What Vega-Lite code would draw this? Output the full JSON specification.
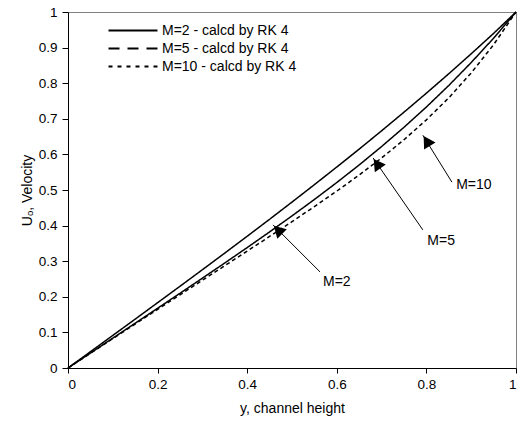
{
  "$schema": "https://vega.github.io/schema/vega-lite/v6.json",
  "width": 448,
  "height": 356,
  "autosize": {"type": "none"},
  "padding": {"left": 68, "top": 12, "right": 2, "bottom": 59},
  "background": "white",
  "config": {
    "font": "Liberation Sans",
    "view": {"stroke": "#808080", "strokeWidth": 1},
    "axis": {
      "grid": false,
      "domainColor": "black",
      "tickColor": "black",
      "labelColor": "black",
      "titleColor": "black",
      "labelFont": "Liberation Sans",
      "titleFont": "Liberation Sans",
      "labelFontSize": 13.5,
      "titleFontSize": 14,
      "titleFontWeight": "normal",
      "labelOverlap": false
    }
  },
  "resolve": {"scale": {"strokeDash": "independent"}, "legend": {"strokeDash": "independent"}},
  "datasets": {
    "curves": [
      {"y": 0, "u": 0, "series": "M=2 - calcd by RK 4"},
      {"y": 0.05, "u": 0.0457, "series": "M=2 - calcd by RK 4"},
      {"y": 0.1, "u": 0.0915, "series": "M=2 - calcd by RK 4"},
      {"y": 0.15, "u": 0.1373, "series": "M=2 - calcd by RK 4"},
      {"y": 0.2, "u": 0.1834, "series": "M=2 - calcd by RK 4"},
      {"y": 0.25, "u": 0.2296, "series": "M=2 - calcd by RK 4"},
      {"y": 0.3, "u": 0.2761, "series": "M=2 - calcd by RK 4"},
      {"y": 0.35, "u": 0.3229, "series": "M=2 - calcd by RK 4"},
      {"y": 0.4, "u": 0.3701, "series": "M=2 - calcd by RK 4"},
      {"y": 0.45, "u": 0.4178, "series": "M=2 - calcd by RK 4"},
      {"y": 0.5, "u": 0.4661, "series": "M=2 - calcd by RK 4"},
      {"y": 0.55, "u": 0.5150, "series": "M=2 - calcd by RK 4"},
      {"y": 0.6, "u": 0.5646, "series": "M=2 - calcd by RK 4"},
      {"y": 0.65, "u": 0.6149, "series": "M=2 - calcd by RK 4"},
      {"y": 0.7, "u": 0.6663, "series": "M=2 - calcd by RK 4"},
      {"y": 0.75, "u": 0.7186, "series": "M=2 - calcd by RK 4"},
      {"y": 0.8, "u": 0.7720, "series": "M=2 - calcd by RK 4"},
      {"y": 0.85, "u": 0.8266, "series": "M=2 - calcd by RK 4"},
      {"y": 0.9, "u": 0.8826, "series": "M=2 - calcd by RK 4"},
      {"y": 0.95, "u": 0.9399, "series": "M=2 - calcd by RK 4"},
      {"y": 1, "u": 1, "series": "M=2 - calcd by RK 4"},
      {"y": 0, "u": 0, "series": "M=5 - calcd by RK 4"},
      {"y": 0.05, "u": 0.0419, "series": "M=5 - calcd by RK 4"},
      {"y": 0.1, "u": 0.0839, "series": "M=5 - calcd by RK 4"},
      {"y": 0.15, "u": 0.1258, "series": "M=5 - calcd by RK 4"},
      {"y": 0.2, "u": 0.1678, "series": "M=5 - calcd by RK 4"},
      {"y": 0.25, "u": 0.2099, "series": "M=5 - calcd by RK 4"},
      {"y": 0.3, "u": 0.2524, "series": "M=5 - calcd by RK 4"},
      {"y": 0.35, "u": 0.2950, "series": "M=5 - calcd by RK 4"},
      {"y": 0.4, "u": 0.3383, "series": "M=5 - calcd by RK 4"},
      {"y": 0.45, "u": 0.3823, "series": "M=5 - calcd by RK 4"},
      {"y": 0.5, "u": 0.4273, "series": "M=5 - calcd by RK 4"},
      {"y": 0.55, "u": 0.4734, "series": "M=5 - calcd by RK 4"},
      {"y": 0.6, "u": 0.5210, "series": "M=5 - calcd by RK 4"},
      {"y": 0.65, "u": 0.5704, "series": "M=5 - calcd by RK 4"},
      {"y": 0.7, "u": 0.6221, "series": "M=5 - calcd by RK 4"},
      {"y": 0.75, "u": 0.6762, "series": "M=5 - calcd by RK 4"},
      {"y": 0.8, "u": 0.7332, "series": "M=5 - calcd by RK 4"},
      {"y": 0.85, "u": 0.7937, "series": "M=5 - calcd by RK 4"},
      {"y": 0.9, "u": 0.8580, "series": "M=5 - calcd by RK 4"},
      {"y": 0.95, "u": 0.9265, "series": "M=5 - calcd by RK 4"},
      {"y": 1, "u": 1, "series": "M=5 - calcd by RK 4"},
      {"y": 0, "u": 0, "series": "M=10 - calcd by RK 4"},
      {"y": 0.05, "u": 0.0412, "series": "M=10 - calcd by RK 4"},
      {"y": 0.1, "u": 0.0825, "series": "M=10 - calcd by RK 4"},
      {"y": 0.15, "u": 0.1236, "series": "M=10 - calcd by RK 4"},
      {"y": 0.2, "u": 0.1647, "series": "M=10 - calcd by RK 4"},
      {"y": 0.25, "u": 0.2057, "series": "M=10 - calcd by RK 4"},
      {"y": 0.3, "u": 0.2466, "series": "M=10 - calcd by RK 4"},
      {"y": 0.35, "u": 0.2875, "series": "M=10 - calcd by RK 4"},
      {"y": 0.4, "u": 0.3284, "series": "M=10 - calcd by RK 4"},
      {"y": 0.45, "u": 0.3696, "series": "M=10 - calcd by RK 4"},
      {"y": 0.5, "u": 0.4111, "series": "M=10 - calcd by RK 4"},
      {"y": 0.55, "u": 0.4534, "series": "M=10 - calcd by RK 4"},
      {"y": 0.6, "u": 0.4969, "series": "M=10 - calcd by RK 4"},
      {"y": 0.65, "u": 0.5422, "series": "M=10 - calcd by RK 4"},
      {"y": 0.7, "u": 0.5900, "series": "M=10 - calcd by RK 4"},
      {"y": 0.75, "u": 0.6413, "series": "M=10 - calcd by RK 4"},
      {"y": 0.8, "u": 0.6971, "series": "M=10 - calcd by RK 4"},
      {"y": 0.85, "u": 0.7590, "series": "M=10 - calcd by RK 4"},
      {"y": 0.9, "u": 0.8288, "series": "M=10 - calcd by RK 4"},
      {"y": 0.95, "u": 0.9082, "series": "M=10 - calcd by RK 4"},
      {"y": 1, "u": 1, "series": "M=10 - calcd by RK 4"}
    ],
    "notes": [
      {"label": "M=2", "tx": 0.600, "ty": 0.242, "x0": 0.5625, "y0": 0.270, "x1": 0.4576, "y1": 0.402, "hx": 0.4686, "hy": 0.3878, "angle": 315},
      {"label": "M=5", "tx": 0.833, "ty": 0.357, "x0": 0.792, "y0": 0.388, "x1": 0.681, "y1": 0.590, "hx": 0.6897, "hy": 0.5739, "angle": 325},
      {"label": "M=10", "tx": 0.906, "ty": 0.514, "x0": 0.857, "y0": 0.522, "x1": 0.792, "y1": 0.654, "hx": 0.8007, "hy": 0.6376, "angle": 328}
    ]
  },
  "layer": [
    {
      "data": {"name": "curves"},
      "mark": {"type": "line", "color": "black", "strokeWidth": 1.5},
      "encoding": {
        "x": {
          "field": "y", "type": "quantitative",
          "scale": {"domain": [0, 1], "nice": false},
          "axis": {"values": [0, 0.2, 0.4, 0.6, 0.8, 1], "format": ".1~f", "title": "y, channel height", "tickSize": 5, "labelPadding": 4, "titlePadding": 11}
        },
        "y": {
          "field": "u", "type": "quantitative",
          "scale": {"domain": [0, 1], "nice": false},
          "axis": {"values": [0, 0.1, 0.2, 0.3, 0.4, 0.5, 0.6, 0.7, 0.8, 0.9, 1], "format": ".1~f", "title": "Uₒ, Velocity", "tickSize": 6, "labelPadding": 5, "titlePadding": 4}
        },
        "detail": {"field": "series"},
        "strokeDash": {
          "field": "series", "type": "nominal",
          "scale": {
            "domain": ["M=2 - calcd by RK 4", "M=5 - calcd by RK 4", "M=10 - calcd by RK 4"],
            "range": [[1, 0], [1, 0], [4, 3]]
          },
          "legend": null
        }
      }
    },
    {
      "data": {"name": "curves"},
      "mark": {"type": "line", "color": "black", "strokeWidth": 1.5, "opacity": 0},
      "encoding": {
        "x": {
          "field": "y", "type": "quantitative",
          "scale": {"domain": [0, 1], "nice": false},
          "axis": {"values": [0, 0.2, 0.4, 0.6, 0.8, 1], "format": ".1~f", "title": "y, channel height", "tickSize": 5, "labelPadding": 4, "titlePadding": 11}
        },
        "y": {
          "field": "u", "type": "quantitative",
          "scale": {"domain": [0, 1], "nice": false},
          "axis": {"values": [0, 0.1, 0.2, 0.3, 0.4, 0.5, 0.6, 0.7, 0.8, 0.9, 1], "format": ".1~f", "title": "Uₒ, Velocity", "tickSize": 6, "labelPadding": 5, "titlePadding": 4}
        },
        "detail": {"field": "series"},
        "strokeDash": {
          "field": "series", "type": "nominal",
          "scale": {
            "domain": ["M=2 - calcd by RK 4", "M=5 - calcd by RK 4", "M=10 - calcd by RK 4"],
            "range": [[1, 0], [11, 8], [4, 5]]
          },
          "legend": {
            "title": null,
            "orient": "none",
            "legendX": 33,
            "legendY": 11,
            "padding": 0,
            "symbolType": "M0,0L8,0",
            "symbolSize": 150,
            "symbolStrokeColor": "black",
            "symbolStrokeWidth": 1.8,
            "symbolOpacity": 1,
            "labelFontSize": 14,
            "labelFont": "Liberation Sans",
            "labelColor": "black",
            "labelOffset": 46,
            "rowPadding": 3
          }
        }
      }
    },
    {
      "data": {"name": "notes"},
      "mark": {"type": "rule", "color": "black", "strokeWidth": 1},
      "encoding": {
        "x": {
          "field": "x0", "type": "quantitative",
          "scale": {"domain": [0, 1], "nice": false},
          "axis": {"values": [0, 0.2, 0.4, 0.6, 0.8, 1], "format": ".1~f", "title": "y, channel height", "tickSize": 5, "labelPadding": 4, "titlePadding": 11}
        },
        "y": {
          "field": "y0", "type": "quantitative",
          "scale": {"domain": [0, 1], "nice": false},
          "axis": {"values": [0, 0.1, 0.2, 0.3, 0.4, 0.5, 0.6, 0.7, 0.8, 0.9, 1], "format": ".1~f", "title": "Uₒ, Velocity", "tickSize": 6, "labelPadding": 5, "titlePadding": 4}
        },
        "x2": {"field": "x1"},
        "y2": {"field": "y1"}
      }
    },
    {
      "data": {"name": "notes"},
      "mark": {"type": "point", "shape": "triangle-up", "filled": true, "color": "black", "size": 180, "opacity": 1},
      "encoding": {
        "x": {
          "field": "hx", "type": "quantitative",
          "scale": {"domain": [0, 1], "nice": false},
          "axis": {"values": [0, 0.2, 0.4, 0.6, 0.8, 1], "format": ".1~f", "title": "y, channel height", "tickSize": 5, "labelPadding": 4, "titlePadding": 11}
        },
        "y": {
          "field": "hy", "type": "quantitative",
          "scale": {"domain": [0, 1], "nice": false},
          "axis": {"values": [0, 0.1, 0.2, 0.3, 0.4, 0.5, 0.6, 0.7, 0.8, 0.9, 1], "format": ".1~f", "title": "Uₒ, Velocity", "tickSize": 6, "labelPadding": 5, "titlePadding": 4}
        },
        "angle": {"field": "angle", "type": "quantitative", "scale": null}
      }
    },
    {
      "data": {"name": "notes"},
      "mark": {"type": "text", "font": "Liberation Sans", "fontSize": 14, "color": "black"},
      "encoding": {
        "x": {
          "field": "tx", "type": "quantitative",
          "scale": {"domain": [0, 1], "nice": false},
          "axis": {"values": [0, 0.2, 0.4, 0.6, 0.8, 1], "format": ".1~f", "title": "y, channel height", "tickSize": 5, "labelPadding": 4, "titlePadding": 11}
        },
        "y": {
          "field": "ty", "type": "quantitative",
          "scale": {"domain": [0, 1], "nice": false},
          "axis": {"values": [0, 0.1, 0.2, 0.3, 0.4, 0.5, 0.6, 0.7, 0.8, 0.9, 1], "format": ".1~f", "title": "Uₒ, Velocity", "tickSize": 6, "labelPadding": 5, "titlePadding": 4}
        },
        "text": {"field": "label"}
      }
    }
  ]
}
